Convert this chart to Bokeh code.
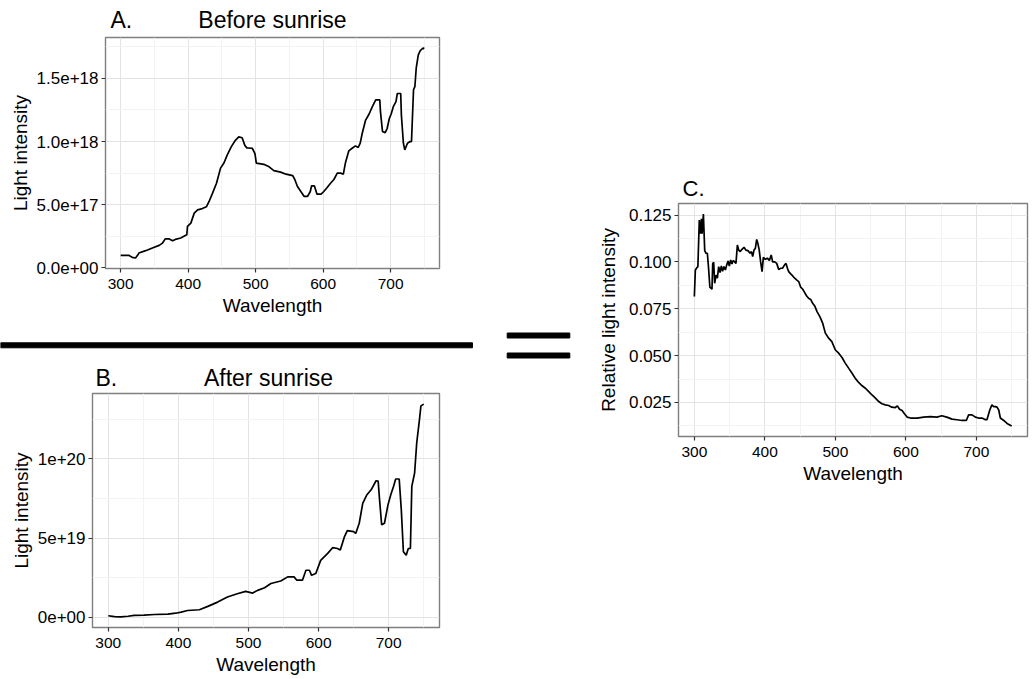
from bokeh.plotting import figure
from bokeh.models import Range1d, FixedTicker, CustomJSTickFormatter, Spacer
from bokeh.core.properties import value
from bokeh.layouts import row, column
from bokeh.embed import file_html
from bokeh.resources import INLINE

FONT = "Liberation Sans"

# ---------------- data ----------------
# Panel A: before sunrise
a_wavelength = [300, 307, 312, 317, 322, 325, 327, 337, 347, 357, 362, 366, 372, 377, 381, 389, 395, 398,
                399, 404, 409, 414, 421, 427, 431, 436, 442, 448, 453, 458, 464, 470, 475, 480, 484, 487,
                495, 499, 501, 512, 520, 527, 537, 545, 555, 558, 562, 567, 572, 577, 581, 583, 587, 591,
                597, 601, 606, 611, 616, 621, 626, 630, 633, 638, 643, 648, 652, 655, 658, 663, 668, 673,
                678, 684, 685, 688, 692, 695, 698, 701, 704, 708, 710, 715, 716, 719, 721, 725, 729, 731,
                734, 736, 738, 741, 744, 748, 750]
a_intensity = [1.00e17, 1.00e17, 1.00e17, 0.84e17, 0.79e17, 1.00e17, 1.18e17, 1.37e17, 1.58e17, 1.79e17,
               1.97e17, 2.30e17, 2.30e17, 2.16e17, 2.26e17, 2.37e17, 2.55e17, 2.63e17, 3.30e17, 3.55e17,
               4.34e17, 4.60e17, 4.70e17, 4.84e17, 5.26e17, 5.90e17, 6.70e17, 7.90e17, 8.30e17, 8.95e17,
               9.60e17, 1.010e18, 1.037e18, 1.030e18, 9.70e17, 9.50e17, 9.47e17, 9.05e17, 8.30e17, 8.20e17,
               8.00e17, 7.70e17, 7.58e17, 7.42e17, 7.30e17, 7.00e17, 6.45e17, 6.05e17, 5.66e17, 5.66e17,
               6.05e17, 6.50e17, 6.50e17, 5.84e17, 5.84e17, 6.05e17, 6.37e17, 6.70e17, 7.00e17, 7.50e17,
               7.50e17, 7.42e17, 8.30e17, 9.26e17, 9.47e17, 9.66e17, 9.53e17, 9.87e17, 1.066e18, 1.170e18,
               1.216e18, 1.276e18, 1.330e18, 1.330e18, 1.237e18, 1.080e18, 1.070e18, 1.105e18, 1.180e18,
               1.220e18, 1.276e18, 1.316e18, 1.380e18, 1.380e18, 1.210e18, 9.87e17, 9.34e17, 9.87e17,
               1.000e18, 1.000e18, 1.410e18, 1.434e18, 1.580e18, 1.684e18, 1.720e18, 1.740e18, 1.735e18]

# Panel B: after sunrise
b_wavelength = [300, 309, 318, 328, 337, 351, 366, 385, 396, 404, 413, 430, 442, 456, 470, 484, 496, 506,
                513, 523, 532, 546, 556, 565, 569, 577, 582, 587, 590, 596, 603, 613, 620, 627, 631, 637,
                641, 650, 653, 658, 663, 669, 675, 682, 685, 687, 690, 694, 699, 703, 707, 710, 715, 718,
                721, 725, 728, 731, 733, 737, 740, 744, 746, 750]
b_intensity = [1.1e18, 0.6e18, 0.4e18, 0.8e18, 1.3e18, 1.5e18, 1.9e18, 2.1e18, 2.7e18, 3.4e18, 4.4e18,
               4.9e18, 7.0e18, 9.7e18, 1.29e19, 1.50e19, 1.65e19, 1.54e19, 1.71e19, 1.88e19, 2.14e19,
               2.30e19, 2.56e19, 2.56e19, 2.35e19, 2.35e19, 2.98e19, 2.98e19, 2.66e19, 2.77e19, 3.60e19,
               4.04e19, 4.40e19, 4.35e19, 4.25e19, 5.10e19, 5.48e19, 5.41e19, 5.30e19, 5.94e19, 7.20e19,
               7.74e19, 8.05e19, 8.62e19, 8.60e19, 7.42e19, 5.84e19, 5.94e19, 7.10e19, 7.74e19, 8.27e19,
               8.73e19, 8.73e19, 6.80e19, 4.14e19, 3.93e19, 4.35e19, 4.35e19, 8.27e19, 9.11e19, 1.10e20,
               1.25e20, 1.334e20, 1.345e20]

# Panel C: relative light intensity
c_wavelength = [300, 301.4, 303.8, 305, 307, 308.5, 310, 311, 312.8, 314.7, 316.5, 318.4, 320, 322, 325,
                326, 327.4, 328.8, 330.7, 332.6, 334.5, 336.4, 338.3, 340, 342, 344, 345.9, 347.8, 349.6,
                351.5, 353.4, 355, 357, 359, 361, 362.9, 365, 367.6, 370.4, 373, 376, 379, 381, 382.7,
                384.6, 386.5, 388.4, 390, 392, 394, 396, 397.9, 400.7, 403.5, 406.4, 409, 411, 414, 416.8,
                419.6, 422.5, 425, 428, 430, 432, 433.8, 436.6, 439.5, 442.3, 445, 448, 450.8, 453.7,
                456.5, 459.3, 462, 465, 467.8, 470.7, 474, 478, 482, 485.8, 490.5, 495, 500, 504.7, 509.4,
                514, 519, 523.7, 528, 533, 537.9, 542.6, 547, 552, 556.8, 561.5, 566, 571, 575.6, 580, 585,
                588, 591, 594.6, 598, 601.7, 606.5, 616, 625.2, 634.7, 644, 651, 658, 665.4, 672.5, 679.6,
                685.7, 689, 693.8, 698.5, 703, 708, 712.8, 715, 719, 722, 724.6, 727, 729.3, 731.7, 734,
                738.8, 743.5, 748, 750]
c_relative = [0.0815, 0.0957, 0.0970, 0.0975, 0.1223, 0.1150, 0.1230, 0.1150, 0.1255, 0.1060, 0.1046,
              0.1046, 0.0975, 0.0865, 0.0854, 0.0990, 0.0998, 0.0886, 0.0930, 0.0913, 0.0975, 0.0943,
              0.0978, 0.0950, 0.0975, 0.0957, 0.0984, 0.1005, 0.0978, 0.1010, 0.0989, 0.1007, 0.1001,
              0.0992, 0.1090, 0.1063, 0.1055, 0.1067, 0.1078, 0.1063, 0.1060, 0.1046, 0.1055, 0.1028,
              0.1063, 0.1072, 0.1120, 0.1100, 0.1063, 0.1000, 0.0948, 0.1024, 0.1014, 0.1020, 0.1007,
              0.1037, 0.1000, 0.1000, 0.0992, 0.0960, 0.0966, 0.0966, 0.0984, 0.0992, 0.0966, 0.0948,
              0.0936, 0.0925, 0.0913, 0.0904, 0.0895, 0.0865, 0.0854, 0.0836, 0.0818, 0.0806, 0.0800,
              0.0779, 0.0765, 0.0735, 0.0708, 0.0673, 0.0620, 0.0593, 0.0575, 0.0530, 0.0513, 0.0490,
              0.0460, 0.0432, 0.0406, 0.0380, 0.0357, 0.0339, 0.0326, 0.0309, 0.0290, 0.0273, 0.0255,
              0.0243, 0.0237, 0.0234, 0.0225, 0.0223, 0.0232, 0.0214, 0.0207, 0.0190, 0.0172, 0.0167,
              0.0167, 0.0172, 0.0175, 0.0172, 0.0179, 0.0172, 0.0161, 0.0158, 0.0154, 0.0154, 0.0184,
              0.0184, 0.0172, 0.0167, 0.0167, 0.0158, 0.0158, 0.0210, 0.0237, 0.0228, 0.0228, 0.0225,
              0.0210, 0.0167, 0.0154, 0.0138, 0.0129, 0.0125]

# tick values / labels
x_ticks = [300, 400, 500, 600, 700]
x_minor = [350, 450, 550, 650, 750]
x_labels = ["300", "400", "500", "600", "700"]
a_y_ticks = [0, 5e17, 1e18, 1.5e18]
a_y_minor = [2.5e17, 7.5e17, 1.25e18, 1.75e18]
a_y_labels = ["0.0e+00", "5.0e+17", "1.0e+18", "1.5e+18"]
b_y_ticks = [0, 5e19, 1e20]
b_y_minor = [2.5e19, 7.5e19, 1.25e20]
b_y_labels = ["0e+00", "5e+19", "1e+20"]
c_y_ticks = [0.025, 0.05, 0.075, 0.1, 0.125]
c_y_minor = [0.0125, 0.0375, 0.0625, 0.0875, 0.1125]
c_y_labels = ["0.025", "0.050", "0.075", "0.100", "0.125"]


def expand(vals, f=0.05):
    lo, hi = min(vals), max(vals)
    d = (hi - lo) * f
    return lo - d, hi + d


def fmt(tvals, tlabels):
    return CustomJSTickFormatter(args=dict(tv=tvals, tl=tlabels), code="""
const i = tv.findIndex(t => Math.abs(t - tick) <= 1e-6 * Math.max(Math.abs(t), 1e-12));
return i >= 0 ? tl[i] : '';
""")


def panel(w, h, left, right, top, bottom, xs, ys, yt, ym, yl, ylab, ylab_standoff=3):
    p = figure(width=w, height=h, x_range=Range1d(*expand(xs)), y_range=Range1d(*expand(ys)),
               output_backend="svg", toolbar_location=None, title=None,
               min_border_left=left, min_border_right=right,
               min_border_top=top, min_border_bottom=bottom)
    p.background_fill_color = "white"
    p.border_fill_color = "white"
    p.outline_line_color = "#7f7f7f"
    p.outline_line_width = 1.4

    p.xaxis.ticker = FixedTicker(ticks=x_ticks, minor_ticks=x_minor)
    p.xaxis.formatter = fmt(x_ticks, x_labels)
    p.yaxis.ticker = FixedTicker(ticks=yt, minor_ticks=ym)
    p.yaxis.formatter = fmt(yt, yl)

    for ax in (p.xaxis, p.yaxis):
        ax.axis_line_color = None
        ax.major_tick_line_color = "#333333"
        ax.major_tick_line_width = 1.2
        ax.major_tick_in = 0
        ax.major_tick_out = 4
        ax.minor_tick_line_color = None
        ax.major_label_text_font = FONT
        ax.major_label_text_color = "black"
        ax.axis_label_text_font = FONT
        ax.axis_label_text_font_size = "19px"
        ax.axis_label_text_font_style = "normal"
        ax.axis_label_text_color = "black"
    p.xaxis.major_label_text_font_size = "15.5px"
    p.yaxis.major_label_text_font_size = "17px"
    p.xaxis.axis_label = "Wavelength"
    p.yaxis.axis_label = ylab
    p.xaxis.major_label_standoff = 6
    p.xaxis.axis_label_standoff = 3
    p.yaxis.major_label_standoff = 3
    p.yaxis.axis_label_standoff = ylab_standoff

    for g in (p.xgrid, p.ygrid):
        g.grid_line_color = "#e3e3e3"
        g.grid_line_width = 1
        g.minor_grid_line_color = "#f3f3f3"
        g.minor_grid_line_width = 1

    p.line(xs, ys, line_color="black", line_width=1.7)
    return p


def deco(w, h):
    p = figure(width=w, height=h, x_range=Range1d(0, w), y_range=Range1d(0, h),
               output_backend="svg", toolbar_location=None, title=None,
               x_axis_location=None, y_axis_location=None, min_border=0)
    p.grid.visible = False
    p.outline_line_color = None
    p.background_fill_color = "white"
    p.border_fill_color = "white"
    return p


def header(w, h, letter, lx, title, tx, base, size):
    p = deco(w, h)
    p.text(x=[lx], y=[base], text=[letter], text_font=value(FONT), text_font_size=size,
           text_align="left", text_baseline="alphabetic", text_color="black")
    if title:
        p.text(x=[tx], y=[base], text=[title], text_font=value(FONT), text_font_size=size,
               text_align="center", text_baseline="alphabetic", text_color="black")
    return p


hA = header(475, 35, "A.", 110, "Before sunrise", 272, 15.5, "23px")
pA = panel(475, 295, 105, 36, 2, 62, a_wavelength, a_intensity, a_y_ticks, a_y_minor, a_y_labels,
           "Light intensity")
sep = deco(475, 20)
sep.quad(left=0, right=472, bottom=2.7, top=7.7, color="black")
hB = header(475, 42, "B.", 95, "After sunrise", 268, 14.5, "23px")
pB = panel(475, 287, 92, 36, 1, 52, b_wavelength, b_intensity, b_y_ticks, b_y_minor, b_y_labels,
           "Light intensity")

eq = deco(115, 50)
eq.quad(left=[31.7, 31.7], right=[94.3, 94.3], bottom=[12.5, 32.5], top=[17.5, 37.5], color="black")

hC = header(445, 42, "C.", 92, None, 0, 13.7, "22px")
pC = panel(445, 288, 88, 8, 1, 54, c_wavelength, c_relative, c_y_ticks, c_y_minor, c_y_labels,
           "Relative light intensity", ylab_standoff=7)

left_col = column(row(hA), row(pA), row(sep), row(hB), row(pB), spacing=0)
mid_col = column(Spacer(width=115, height=320), row(eq), Spacer(width=115, height=309), spacing=0)
right_col = column(Spacer(width=445, height=160), row(hC), row(pC), Spacer(width=445, height=189),
                   spacing=0)
layout = row(left_col, mid_col, right_col, spacing=0)

open("out.html", "w").write(file_html(layout, INLINE, title="Light spectra"))
